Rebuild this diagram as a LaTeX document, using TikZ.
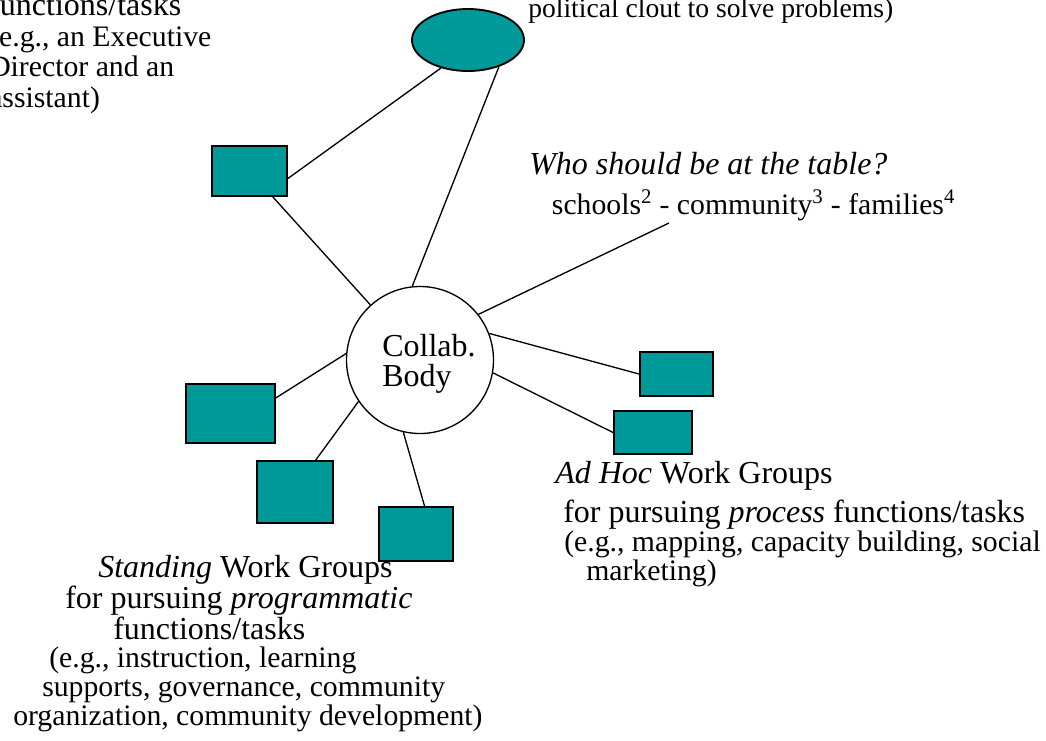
\documentclass[tikz,border=0pt]{standalone}
\usepackage{fontspec}
\setmainfont{Liberation Serif}
\usetikzlibrary{shapes.geometric}
\definecolor{tealfill}{RGB}{0,153,153}
\newcommand{\smalltxt}{\fontsize{22.3}{21.4}\selectfont}
\tikzset{
  box/.style={draw, fill=tealfill, line width=1.4pt, inner sep=0pt},
  link/.style={line width=1pt},
  lbl/.style={inner sep=0pt, align=left, anchor=base west, font=\fontsize{24}{21.4}\selectfont},
}
\begin{document}
\begin{tikzpicture}[x=0.75pt, y=-0.75pt]
  \useasboundingbox (0,0) rectangle (1046,740);
  \clip (0,0) rectangle (1046,740);
  % the body in the middle
  \node[draw, circle, line width=1pt, minimum size=110.25pt, inner sep=0pt] (body) at (420,360) {};
  \node[lbl] (bodytxt) at (382,386) {Collab.\\[1.1pt]Body};
  % staff and champion
  \node[box, ellipse, minimum width=84pt, minimum height=46.5pt] (champ) at (468,40) {};
  \node[box, minimum width=56.25pt, minimum height=37.5pt] (staff) at (249.5,171) {};
  % standing work groups
  \node[box, minimum width=66.75pt, minimum height=44.25pt] (stand1) at (230.5,413.5) {};
  \node[box, minimum width=57pt, minimum height=46.5pt] (stand2) at (295,492) {};
  \node[box, minimum width=55.5pt, minimum height=40.5pt] (stand3) at (416,534) {};
  % ad hoc work groups
  \node[box, minimum width=54.75pt, minimum height=33pt] (adhoc1) at (676.5,374) {};
  \node[box, minimum width=58.5pt, minimum height=32.25pt] (adhoc2) at (653,432.5) {};
  \coordinate (table) at (669,223);

  \draw[link] (staff.-11) -- (champ.-134);
  \draw[link] (champ.-41) -- (body.96);
  \draw[link] (staff.-48) -- (body.132);
  \draw[link] (body.38) -- (table);
  \draw[link] (body.21) -- (adhoc1.west);
  \draw[link] (body.-10) -- (adhoc2.west);
  \draw[link] (body.175) -- (stand1.19);
  \draw[link] (body.-146) -- (stand2.57);
  \draw[link] (body.-103) -- (stand3.73);

  % texts
  \node[lbl] (stafftxt) at (-11,107) {functions/tasks\\[1.4pt]
    \smalltxt (e.g., an Executive\\[1.4pt]\smalltxt Director and an\\[1.4pt]\smalltxt assistant)};
  \node[lbl, font=\fontsize{20.7}{21}\selectfont] (champtxt) at (528,17)
    {political clout to solve problems)};
  \node[lbl] (tabletxt) at (529,214) {\textit{Who should be at the table?}\\[7.9pt]
    \smalltxt\hspace*{17pt}schools\textsuperscript{2} - community\textsuperscript{3} - families\textsuperscript{4}};
  \node[lbl] (adhoctxt) at (555,580) {\textit{Ad Hoc} Work Groups\\[6.4pt]
    \hspace*{6pt}for pursuing \textit{process} functions/tasks\\
    \smalltxt\hspace*{6.75pt}(e.g., mapping, capacity building, social\\
    \smalltxt\hspace*{23.25pt}marketing)};
  \node[lbl] (standtxt) at (13,725) {\hspace*{63.75pt}\textit{Standing} Work Groups\\
    \hspace*{39pt}for pursuing \textit{programmatic}\\
    \hspace*{75pt}functions/tasks\\
    \smalltxt\hspace*{27pt}(e.g., instruction, learning\\
    \smalltxt\hspace*{21.75pt}supports, governance, community\\
    \smalltxt organization, community development)};
\end{tikzpicture}
\end{document}
